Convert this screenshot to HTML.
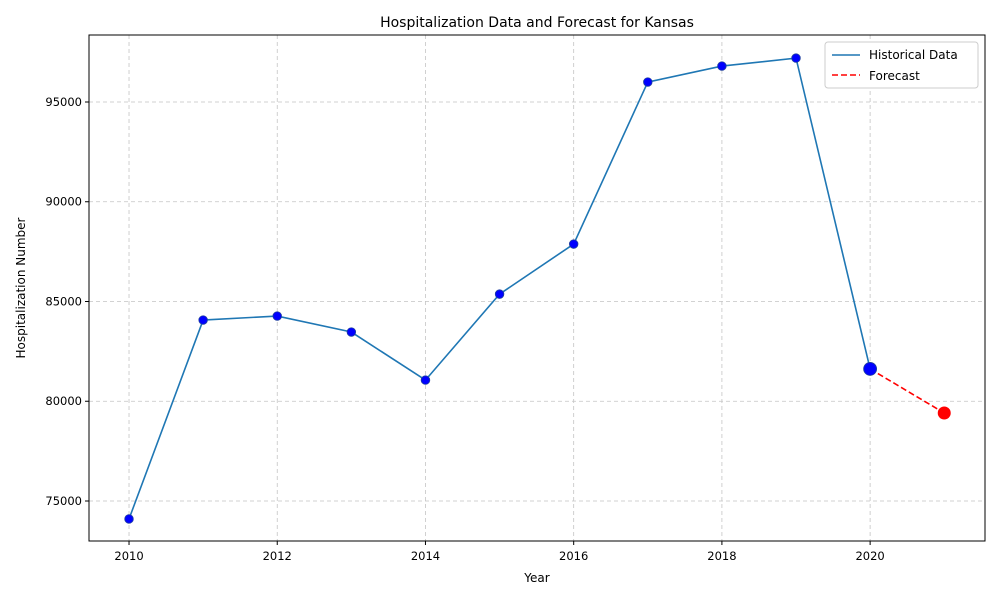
<!DOCTYPE html>
<html><head><meta charset="utf-8"><style>
html,body{margin:0;background:#fff;overflow:hidden;width:1000px;height:600px;font-family:"Liberation Sans","DejaVu Sans",sans-serif;}
svg text{font-family:"DejaVu Sans","Liberation Sans",sans-serif;}
</style></head><body>
<svg id="chart" width="1000" height="600" style="position:absolute;left:0;top:0" xmlns="http://www.w3.org/2000/svg"></svg>
<script>
const years=[2010,2011,2012,2013,2014,2015,2016,2017,2018,2019,2020];
const values=[74100,84070,84270,83470,81060,85370,87880,96000,96800,97200,81620];
const forecastYears=[2020,2021];
const forecastValues=[81620,79410];
const xTicks=[2010,2012,2014,2016,2018,2020];
const yTicks=[75000,80000,85000,90000,95000];
const L=89,R=985,T=35,B=541;
const xMin=2009.46,xMax=2021.55,yMin=72995,yMax=98358;
const X=v=>L+(v-xMin)/(xMax-xMin)*(R-L);
const Y=v=>B-(v-yMin)/(yMax-yMin)*(B-T);
const svg=document.getElementById('chart');
const NS='http://www.w3.org/2000/svg';
function mk(tag,attrs,parent){const e=document.createElementNS(NS,tag);for(const k in attrs)e.setAttribute(k,attrs[k]);(parent||svg).appendChild(e);return e;}
const grid=mk('g',{});


xTicks.forEach(t=>{
 mk('line',{x1:X(t),x2:X(t),y1:T,y2:B,stroke:'#c4c4c4','stroke-dasharray':'4,3','stroke-width':0.8},grid);
 mk('line',{x1:X(t),x2:X(t),y1:B,y2:B+4,stroke:'#000'});
 const tx=mk('text',{x:X(t),y:B+19,'text-anchor':'middle','font-size':11.5});tx.textContent=t;
 
 
});
yTicks.forEach(t=>{
 mk('line',{x1:L,x2:R,y1:Y(t),y2:Y(t),stroke:'#c4c4c4','stroke-dasharray':'4,3','stroke-width':0.8},grid);
 mk('line',{x1:L-4,x2:L,y1:Y(t),y2:Y(t),stroke:'#000'});
 const tx=mk('text',{x:L-7,y:Y(t)+4,'text-anchor':'end','font-size':11.5});tx.textContent=t;
 
 
});
const hist=mk('polyline',{points:years.map((y,i)=>X(y)+','+Y(values[i])).join(' '),fill:'none',stroke:'#1f77b4','stroke-width':1.6});


const fc=mk('polyline',{points:forecastYears.map((y,i)=>X(y)+','+Y(forecastValues[i])).join(' '),fill:'none',stroke:'#ff0000','stroke-width':1.6,'stroke-dasharray':'6,3'});


years.forEach((y,i)=>{
 const last=i===years.length-1;
 const c=mk('circle',{cx:X(y),cy:Y(values[i]),r:last?6.5:4.3,fill:'#0000ff',stroke:'#1f3f9f','stroke-width':0.8});
 
 
});
const fp=mk('circle',{cx:X(forecastYears[1]),cy:Y(forecastValues[1]),r:6.5,fill:'#ff0000'});


const frame=mk('rect',{x:L,y:T,width:R-L,height:B-T,fill:'none',stroke:'#000','stroke-width':1});


</script>
<svg width="1000" height="600" style="position:absolute;left:0;top:0;pointer-events:none" xmlns="http://www.w3.org/2000/svg">
<text x="537" y="27" text-anchor="middle" font-size="14">Hospitalization Data and Forecast for Kansas</text>
<text x="537" y="582" text-anchor="middle" font-size="12">Year</text>
<text transform="translate(25,288) rotate(-90)" text-anchor="middle" font-size="12">Hospitalization Number</text>
<g>
<rect x="825" y="42" width="153" height="46" rx="3" fill="#fff" stroke="#ccc"/>
<line x1="832" y1="55" x2="860" y2="55" stroke="#1f77b4" stroke-width="1.6"/>
<text x="869" y="59" font-size="12">Historical Data</text>
<line x1="832" y1="75" x2="860" y2="75" stroke="#ff0000" stroke-width="1.6" stroke-dasharray="6,3"/>
<text x="869" y="80" font-size="12">Forecast</text>
</g>
</svg>
</body></html>
